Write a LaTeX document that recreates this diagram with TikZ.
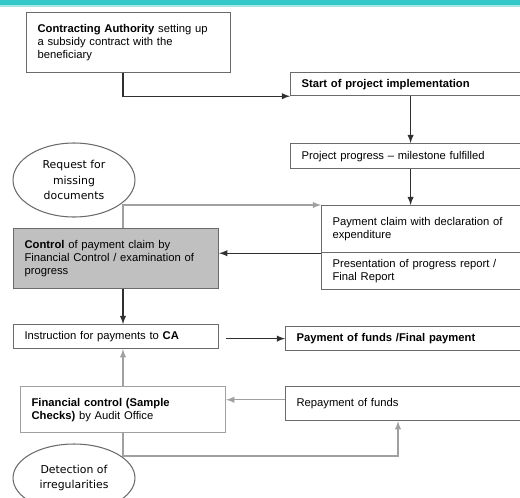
\documentclass[tikz,border=0pt]{standalone}
\usepackage{fontspec}
\setmainfont{Liberation Sans}
\newfontfamily\ovalfont{DejaVu Sans}
\usepackage{tikz}
\usetikzlibrary{arrows, shapes.geometric}
\usepackage{xcolor}

\definecolor{bandteal}{HTML}{33C9C9}
\definecolor{bandlight}{HTML}{A8E6E6}
\definecolor{linedark}{HTML}{303030}
\definecolor{linegray}{HTML}{A0A0A0}
\definecolor{boxdark}{HTML}{6A6A6A}
\definecolor{claimfill}{HTML}{C0C0C0}

\begin{document}
\begin{tikzpicture}[x=0.02cm, y=-0.02cm, >=latex,
    stagebox/.style={draw=boxdark, line width=0.7pt, anchor=north west, align=left,
        inner xsep=0.22cm, inner ysep=1pt, font=\fontsize{6.4}{7.4}\selectfont},
    note/.style={ellipse, draw=boxdark, line width=0.6pt, inner sep=0pt, align=center,
        minimum width=2.44cm, font=\ovalfont\fontsize{6.2}{8.8}\selectfont},
    flow/.style={->, draw=linedark, line width=0.6pt},
    check/.style={->, draw=linegray, line width=0.6pt}]

    \clip (0,0) rectangle (520,497);
    \fill[bandteal] (0,0) rectangle (520,5);
    \fill[bandlight] (0,5) rectangle (520,6.5);
    \coordinate (spine) at (123,0);

    \node[stagebox, text width=3.64cm, minimum height=1.2cm] (ca) at (26,12)
        {\textbf{Contracting Authority} setting up\\a subsidy contract with the\\beneficiary};
    \node[stagebox, text width=4.36cm, minimum height=0.46cm] (start) at (290,72)
        {\textbf{Start of project implementation}};
    \node[stagebox, text width=4.36cm, minimum height=0.5cm] (progress) at (290,143)
        {Project progress -- milestone fulfilled};
    \node[stagebox, text width=3.74cm, minimum height=0.94cm] (claim) at (321,205)
        {Payment claim with declaration of\\expenditure};
    \node[stagebox, text width=3.74cm, minimum height=0.74cm] (report) at (321,252)
        {Presentation of progress report /\\Final Report};
    \node[stagebox, fill=claimfill, text width=3.66cm, minimum height=1.2cm] (control) at (13,228)
        {\textbf{Control} of payment claim by\\Financial Control / examination of\\progress};
    \node[stagebox, text width=3.66cm, minimum height=0.48cm] (instr) at (13,324)
        {Instruction for payments to \textbf{CA}};
    \node[stagebox, text width=4.46cm, minimum height=0.48cm] (payment) at (285,326)
        {\textbf{Payment of funds /Final payment}};
    \node[stagebox, draw=linegray, text width=3.66cm, minimum height=0.92cm] (audit) at (20,386)
        {\textbf{Financial control (Sample}\\\textbf{Checks)} by Audit Office};
    \node[stagebox, text width=4.46cm, minimum height=0.68cm] (repay) at (285,386)
        {Repayment of funds};

    \node[note, minimum height=1.48cm] (request) at (74,180) {Request for\\missing\\documents};
    \node[note, minimum height=1.36cm] (detect) at (74,478) {Detection of\\irregularities};
    \coordinate (sink) at (398,456);

    \draw[flow] (ca.south -| spine) |- (start.south west);
    \path
        (start) edge[flow] (progress)
        (progress.south) edge[flow] (progress.south |- claim.north)
        (claim.south west) edge[flow] (claim.south west -| control.east)
        (control.south -| spine) edge[flow] (instr.north -| spine);
    \draw[flow] (payment.west -| instr.east) ++(7,0) -- (payment.west);

    \draw[check] (control.north -| spine) |- (claim.north west);
    \path
        (audit.north -| spine) edge[check] (instr.south -| spine)
        ([yshift=2.2pt]repay.west) edge[check] ([yshift=2.2pt]repay.west -| audit.east);
    \draw[check] (audit.south -| spine) |- (sink) -- (sink |- repay.south);
\end{tikzpicture}
\end{document}
